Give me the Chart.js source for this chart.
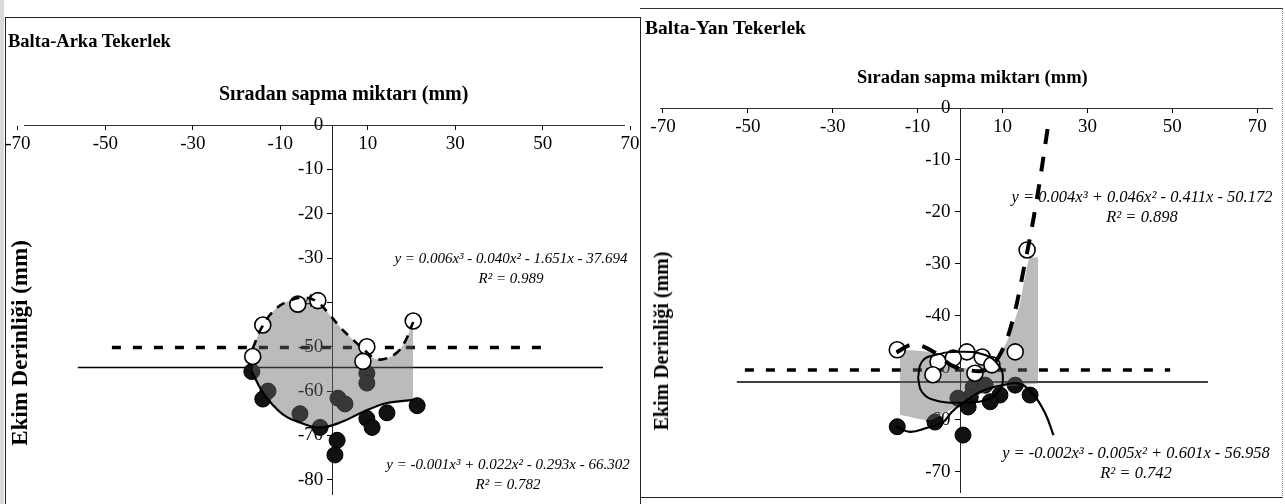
<!DOCTYPE html>
<html>
<head>
<meta charset="utf-8">
<script src="https://cdn.jsdelivr.net/npm/chart.js@4.4.1/dist/chart.umd.min.js"></script>
<style>
  body { margin: 0; width: 1285px; height: 504px; overflow: hidden; position: relative; background: #fff; font-family: 'Liberation Serif', 'DejaVu Serif', serif; color: #000; }
  .panel { position: absolute; top: 0; height: 504px; }
  #leftPanel { left: 0; width: 640px; }
  #rightPanel { left: 641px; width: 644px; }
  .lbl { position: absolute; white-space: nowrap; line-height: 1; z-index: 2; }
  .title { font-weight: bold; }
  .xtitle { font-weight: bold; }
  .ytitle { font-weight: bold; transform: translate(-50%, -50%) rotate(-90deg); }
  .eq { font-style: italic; text-align: center; line-height: 20px; }
  .frame { position: absolute; z-index: 3; pointer-events: none; }
</style>
</head>
<body>
<div class="frame" style="left:0;top:0;width:4px;height:504px;background:#d9d9d9"></div>
<div class="frame" style="left:5px;top:17px;width:634px;height:490px;border-top:1.5px solid #222;border-left:1.5px solid #222;border-right:1.5px solid #222"></div>
<div class="frame" style="left:640px;top:8px;width:642px;height:488px;border-top:1px solid #333;border-bottom:1.5px solid #222;border-right:1px dotted #888"></div>

<div class="panel" id="leftPanel"><canvas id="chartArka"></canvas></div>
<div class="panel" id="rightPanel"><canvas id="chartYan"></canvas></div>

<div class="lbl title" style="left:8px;top:32px;font-size:18.5px">Balta-Arka Tekerlek</div>
<div class="lbl xtitle" style="left:219px;top:83px;font-size:20px">Sıradan sapma miktarı (mm)</div>
<div class="lbl ytitle" style="left:19px;top:343px;font-size:23px">Ekim Derinliği (mm)</div>
<div class="lbl eq" style="left:386px;top:248px;width:250px;font-size:15px">y = 0.006x³ - 0.040x² - 1.651x - 37.694<br>R² = 0.989</div>
<div class="lbl eq" style="left:380px;top:454px;width:256px;font-size:15px">y = -0.001x³ + 0.022x² - 0.293x - 66.302<br>R² = 0.782</div>

<div class="lbl title" style="left:645px;top:18px;font-size:19.5px">Balta-Yan Tekerlek</div>
<div class="lbl xtitle" style="left:857px;top:68px;font-size:18.5px">Sıradan sapma miktarı (mm)</div>
<div class="lbl ytitle" style="left:661px;top:341px;font-size:20px">Ekim Derinliği (mm)</div>
<div class="lbl eq" style="left:1006px;top:187px;width:272px;font-size:16.5px">y = 0.004x³ + 0.046x² - 0.411x - 50.172<br>R² = 0.898</div>
<div class="lbl eq" style="left:994px;top:443px;width:284px;font-size:16.5px">y = -0.002x³ - 0.005x² + 0.601x - 56.958<br>R² = 0.742</div>

<script>
const xTickValues = [-70, -50, -30, -10, 10, 30, 50, 70];
const arkaYTickValues = [0, -10, -20, -30, -40, -50, -60, -70, -80];
const yanYTickValues = [0, -10, -20, -30, -40, -50, -60, -70];

// Balta-Arka Tekerlek (left)
const arkaOpenX = [-14.0, -6.0, -1.4, -16.3, 9.8, 8.9, 20.4];
const arkaOpenY = [-45.1, -40.4, -39.6, -52.2, -50.0, -53.3, -44.2];
const arkaFilledX = [-16.5, -12.8, -14.0, -5.5, -0.9, 3.2, 4.8, 9.8, 9.8, 9.8, 11.0, 14.4, 21.3, 3.0, 2.5];
const arkaFilledY = [-55.6, -60.0, -61.8, -65.1, -68.2, -61.6, -62.9, -56.0, -58.2, -66.2, -68.2, -64.9, -63.3, -71.1, -74.4];
const arkaOpenTrendX = [-16.3, -14.2, -11.2, -7.8, -4.4, -1.4, 1.4, 3.7, 6.4, 9.4, 11.7, 14.0, 16.7, 18.5, 20.4];
const arkaOpenTrendY = [-50.4, -45.6, -41.6, -39.6, -38.9, -40.0, -42.9, -45.6, -48.2, -50.9, -52.7, -52.7, -51.3, -48.9, -44.4];
const arkaFilledTrendX = [-16.5, -14.2, -11.9, -8.9, -5.5, -0.9, 3.7, 8.9, 14.4, 20.4];
const arkaFilledTrendY = [-55.6, -60.0, -62.9, -65.6, -67.1, -68.2, -67.1, -64.7, -62.7, -62.0];
const arkaDashedRefX = [-48.5, 50.6];
const arkaDashedRefY = [-50.2, -50.2];
const arkaSolidRefX = [-56.3, 63.8];
const arkaSolidRefY = [-54.7, -54.7];

// Balta-Yan Tekerlek (right)
const yanOpenX = [-14.8, 1.6, 13.0, 15.8, -5.2, -1.6, 5.2, 7.5, -6.4, 3.5];
const yanOpenY = [-46.5, -46.9, -46.9, -27.3, -48.8, -48.1, -47.9, -49.4, -51.3, -51.0];
const yanFilledX = [-14.8, -5.9, 0.7, 3.1, 2.4, 1.9, 9.4, 13.0, 16.5, 5.9, -0.5, 7.1];
const yanFilledY = [-61.3, -60.4, -62.9, -53.7, -55.6, -57.5, -55.2, -53.3, -55.2, -53.3, -55.8, -56.5];
const yanOpenTrendX = [-15, -11, -6, -2, 2, 6, 9, 12, 15, 18, 21];
const yanOpenTrendY = [-47, -45.5, -47, -49.5, -50.4, -50.4, -48, -42, -31, -18, -2];
const yanFilledTrendX = [-15, -11.8, -7.8, -4, -2, 0, 5, 10, 14, 17, 20, 22];
const yanFilledTrendY = [-61.3, -62.3, -61.5, -60.4, -58.5, -57.1, -54.5, -53.3, -53.0, -54.8, -58.6, -62.9];
const yanShadeTopX = [-14.2, -7, 0, 8, 11, 14, 16.3, 18.4];
const yanShadeTopY = [-46.5, -47, -50, -48.5, -45, -38, -29, -28.7];
const yanShadeBottomX = [-14.2, -7, 0, 8, 18.4];
const yanShadeBottomY = [-59, -60, -57, -54, -53];
const yanEllipseX = [-9.9, -9.0, -5.9, 0, 5.9, 9.0, 10.1, 9.0, 5.9, 0, -5.9, -9.0, -9.9];
const yanEllipseY = [-51.9, -48.8, -47.5, -46.9, -47.5, -49.4, -51.9, -54.6, -56.2, -56.7, -56.2, -54.6, -51.9];
const yanDashedRefX = [-50.7, 49.5];
const yanDashedRefY = [-50.4, -50.4];
const yanSolidRefX = [-52.6, 58.4];
const yanSolidRefY = [-52.7, -52.7];

const pts = (xs, ys) => xs.map((x, i) => ({ x, y: ys[i] }));
const SHADE = 'rgba(105,105,105,0.45)';

function line(data, opts) {
  return Object.assign({
    type: 'line', data, borderColor: '#000', borderWidth: 2, pointRadius: 0,
    tension: 0.4, fill: false
  }, opts);
}

function markers(data, filled, order) {
  return {
    type: 'scatter', data, order, pointRadius: 8, pointHoverRadius: 8,
    backgroundColor: filled ? '#111' : '#fff', borderColor: '#000',
    borderWidth: filled ? 1 : 1.6
  };
}

function buildDatasets(p) {
  const ds = [
    line(pts(p.dashedRefX, p.dashedRefY), { borderWidth: 3.5, borderDash: [9, 12], tension: 0, order: 10 }),
    line(pts(p.solidRefX, p.solidRefY), { borderWidth: 1.5, tension: 0, order: 9 }),
    markers(pts(p.filledX, p.filledY), true, 8),
    line(pts(p.shadeTopX, p.shadeTopY), { borderWidth: 0, fill: '+1', backgroundColor: SHADE, tension: p.shadeTension, order: 7 }),
    line(pts(p.shadeBottomX, p.shadeBottomY), { borderWidth: 0, tension: p.shadeTension, order: 7 }),
    line(pts(p.filledTrendX, p.filledTrendY), { borderWidth: 2.2, order: 5 }),
    markers(pts(p.openX, p.openY), false, 3),
    line(pts(p.openTrendX, p.openTrendY), { borderWidth: p.dashWidth, borderDash: p.dash, order: 1 })
  ];
  if (p.ellipseX) {
    ds.push(line(pts(p.ellipseX, p.ellipseY), { type: 'scatter', showLine: true, borderWidth: 2, tension: 0.45, order: 2 }));
  }
  return ds;
}

const tickFont = { family: 'Liberation Serif', size: 19 };

function zeroFit(s, key) {
  s[key] = 0;
  s.paddingTop = s.paddingBottom = s.paddingLeft = s.paddingRight = 0;
}

function makeChart(id, p) {
  return new Chart(document.getElementById(id), {
    type: 'scatter',
    data: { datasets: buildDatasets(p) },
    options: {
      responsive: true,
      maintainAspectRatio: false,
      animation: false,
      events: [],
      layout: { padding: p.padding },
      plugins: {
        legend: { display: false },
        tooltip: { enabled: false },
        filler: { drawTime: 'beforeDatasetDraw' }
      },
      scales: {
        x: {
          type: 'linear', min: p.xMin, max: p.xMax,
          position: { y: 0 },
          afterBuildTicks: s => { s.ticks = xTickValues.map(v => ({ value: v })); },
          afterFit: s => zeroFit(s, 'height'),
          grid: { drawOnChartArea: false, color: '#000', tickLength: 4 },
          border: { color: '#333', width: 1 },
          ticks: { color: '#000', font: tickFont, padding: 4, maxRotation: 0, autoSkip: false, callback: v => String(v) }
        },
        y: {
          type: 'linear', min: p.yMin, max: 0,
          position: { x: p.yAxisAt },
          afterBuildTicks: s => { s.ticks = p.yTicks.map(v => ({ value: v })); },
          afterFit: s => zeroFit(s, 'width'),
          grid: { drawOnChartArea: false, color: '#000', tickLength: 5 },
          border: { color: '#222', width: 1, dash: p.yDash },
          // labels sit right on the crossing axis, so pad them with trailing spaces
          ticks: { color: '#000', font: tickFont, padding: 6, autoSkip: false, callback: v => String(v) + '\u00a0\u00a0' }
        }
      }
    }
  });
}

makeChart('chartArka', {
  openX: arkaOpenX, openY: arkaOpenY, filledX: arkaFilledX, filledY: arkaFilledY,
  openTrendX: arkaOpenTrendX, openTrendY: arkaOpenTrendY,
  filledTrendX: arkaFilledTrendX, filledTrendY: arkaFilledTrendY,
  shadeTopX: arkaOpenTrendX, shadeTopY: arkaOpenTrendY,
  shadeBottomX: arkaFilledTrendX, shadeBottomY: arkaFilledTrendY, shadeTension: 0.4,
  dashedRefX: arkaDashedRefX, dashedRefY: arkaDashedRefY,
  solidRefX: arkaSolidRefX, solidRefY: arkaSolidRefY,
  dash: [9, 7], dashWidth: 2.6,
  yTicks: arkaYTickValues, yAxisAt: 2, yDash: [],
  xMin: -68.6, xMax: 68.6, yMin: -83.3,
  padding: { top: 125, bottom: 4, left: 24, right: 16 }
});

makeChart('chartYan', {
  openX: yanOpenX, openY: yanOpenY, filledX: yanFilledX, filledY: yanFilledY,
  openTrendX: yanOpenTrendX, openTrendY: yanOpenTrendY,
  filledTrendX: yanFilledTrendX, filledTrendY: yanFilledTrendY,
  shadeTopX: yanShadeTopX, shadeTopY: yanShadeTopY,
  shadeBottomX: yanShadeBottomX, shadeBottomY: yanShadeBottomY, shadeTension: 0.2,
  dashedRefX: yanDashedRefX, dashedRefY: yanDashedRefY,
  solidRefX: yanSolidRefX, solidRefY: yanSolidRefY,
  ellipseX: yanEllipseX, ellipseY: yanEllipseY,
  dash: [15, 13], dashWidth: 4,
  yTicks: yanYTickValues, yAxisAt: 0, yDash: [5, 3],
  xMin: -70.7, xMax: 73.5, yMin: -73.85,
  padding: { top: 108, bottom: 12, left: 19, right: 13 }
});
</script>
</body>
</html>
